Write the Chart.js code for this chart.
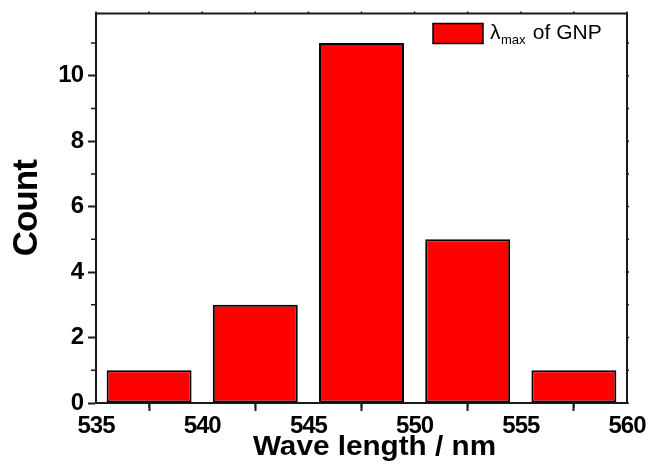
<!DOCTYPE html>
<html><head><meta charset="utf-8">
<script src="https://cdn.jsdelivr.net/npm/chart.js@4"></script>
<style>html,body{margin:0;padding:0;background:#fff}</style>
</head><body>
<canvas id="c" width="649" height="471"></canvas>
<script>
const binCenters = [537.5, 542.5, 547.5, 552.5, 557.5];
const counts = [1, 3, 11, 5, 1];
const xMajorTicks = [535, 540, 545, 550, 555, 560];
const xMinorTicks = [537.5, 542.5, 547.5, 552.5, 557.5];
const yMajorTicks = [0, 2, 4, 6, 8, 10];
const yMinorTicks = [1, 3, 5, 7, 9, 11];
const legendParts = ['λ', 'max', ' of GNP'];
const xTitle = 'Wave length / nm';
const yTitle = 'Count';

const AXIS = '#1a1a1a';
const FONT = '"Liberation Sans", Arial, sans-serif';

const extraTicks = {
  id: 'extraTicks',
  beforeDraw(chart) {
    chart.ctx.letterSpacing = '-1px';
  },
  afterDraw(chart) {
    const ctx = chart.ctx, ca = chart.chartArea;
    const xs = chart.scales.x, ys = chart.scales.y;
    ctx.save();
    // x axis title (slightly widened, as in the reference)
    ctx.letterSpacing = '0px';
    ctx.fillStyle = '#000';
    ctx.font = 'bold 27px ' + FONT;
    ctx.textAlign = 'center';
    ctx.textBaseline = 'alphabetic';
    const cx = (ca.left + ca.right) / 2 + 13;
    ctx.save();
    ctx.translate(cx, ca.bottom + 52);
    ctx.scale(1.1, 1);
    ctx.fillText(xTitle, 0, 0);
    ctx.restore();
    ctx.strokeStyle = AXIS;
    ctx.lineWidth = 2;
    ctx.beginPath();
    ctx.moveTo(ca.left - 1, ca.top); ctx.lineTo(ca.right + 1, ca.top);
    ctx.moveTo(ca.right, ca.top); ctx.lineTo(ca.right, ca.bottom + 1);
    ctx.stroke();
    ctx.lineWidth = 1.5;
    ctx.beginPath();
    xMinorTicks.forEach(v => { const p = xs.getPixelForValue(v); ctx.moveTo(p, ca.bottom); ctx.lineTo(p, ca.bottom + 5); });
    yMinorTicks.forEach(v => { const p = ys.getPixelForValue(v); ctx.moveTo(ca.left, p); ctx.lineTo(ca.left - 5, p); });
    xMajorTicks.concat(xMinorTicks).forEach(v => { const p = xs.getPixelForValue(v); ctx.moveTo(p, ca.top); ctx.lineTo(p, ca.top - 2); });
    yMajorTicks.concat(yMinorTicks).forEach(v => { const p = ys.getPixelForValue(v); ctx.moveTo(ca.right, p); ctx.lineTo(ca.right + 2, p); });
    ctx.stroke();
    // legend
    const bx = ca.right - 194, by = ca.top + 10;
    ctx.fillStyle = '#ff0000';
    ctx.fillRect(bx, by, 50, 20);
    ctx.strokeStyle = '#000';
    ctx.lineWidth = 1.5;
    ctx.strokeRect(bx, by, 50, 20);
    ctx.fillStyle = '#000';
    ctx.textBaseline = 'alphabetic';
    ctx.textAlign = 'left';
    ctx.font = '21px ' + FONT;
    const base = by + 15;
    ctx.fillText(legendParts[0], bx + 57, base);
    ctx.font = '13px ' + FONT;
    ctx.fillText(legendParts[1], bx + 68, base + 5);
    ctx.font = '21px ' + FONT;
    ctx.fillText(legendParts[2], bx + 94, base);
    ctx.restore();
  }
};

new Chart(document.getElementById('c'), {
  type: 'bar',
  data: {
    datasets: [{
      label: 'λmax of GNP',
      data: binCenters.map((x, i) => ({ x: x, y: counts[i] })),
      backgroundColor: '#ff0000',
      borderColor: '#000',
      borderWidth: 2,
      borderSkipped: false,
      barPercentage: 0.8,
      categoryPercentage: 1
    }]
  },
  options: {
    responsive: false,
    animation: false,
    devicePixelRatio: 1,
    layout: { padding: { top: 13.5, right: 22, left: 0, bottom: 0 } },
    plugins: { legend: { display: false }, tooltip: { enabled: false } },
    scales: {
      x: {
        type: 'linear', min: 535, max: 560, offset: false,
        afterBuildTicks: s => { s.ticks = xMajorTicks.map(v => ({ value: v })); },
        afterFit: s => { s.height = 68; s.paddingLeft = 0; s.paddingRight = 0; },
        grid: { display: true, drawOnChartArea: false, drawTicks: true, tickLength: 8, tickWidth: 2, tickColor: AXIS },
        border: { display: true, width: 2, color: AXIS },
        ticks: { color: '#000', font: { family: FONT, size: 24, weight: 'bold' }, padding: 1, maxRotation: 0, autoSkip: false, includeBounds: false },
        title: { display: false, text: xTitle }
      },
      y: {
        type: 'linear', min: 0, max: 11.9,
        afterBuildTicks: s => { s.ticks = yMajorTicks.map(v => ({ value: v })); },
        afterFit: s => { s.width = 96; s.paddingTop = 0; s.paddingBottom = 0; },
        grid: { display: true, drawOnChartArea: false, drawTicks: true, tickLength: 8, tickWidth: 2, tickColor: AXIS },
        border: { display: true, width: 2, color: AXIS },
        ticks: { color: '#000', font: { family: FONT, size: 24, weight: 'bold' }, padding: 5, includeBounds: false },
        title: { display: true, text: yTitle, color: '#000', font: { family: FONT, size: 35, weight: 'bold' }, padding: { top: 6, bottom: 0 } }
      }
    }
  },
  plugins: [extraTicks]
});
</script>
</body></html>
